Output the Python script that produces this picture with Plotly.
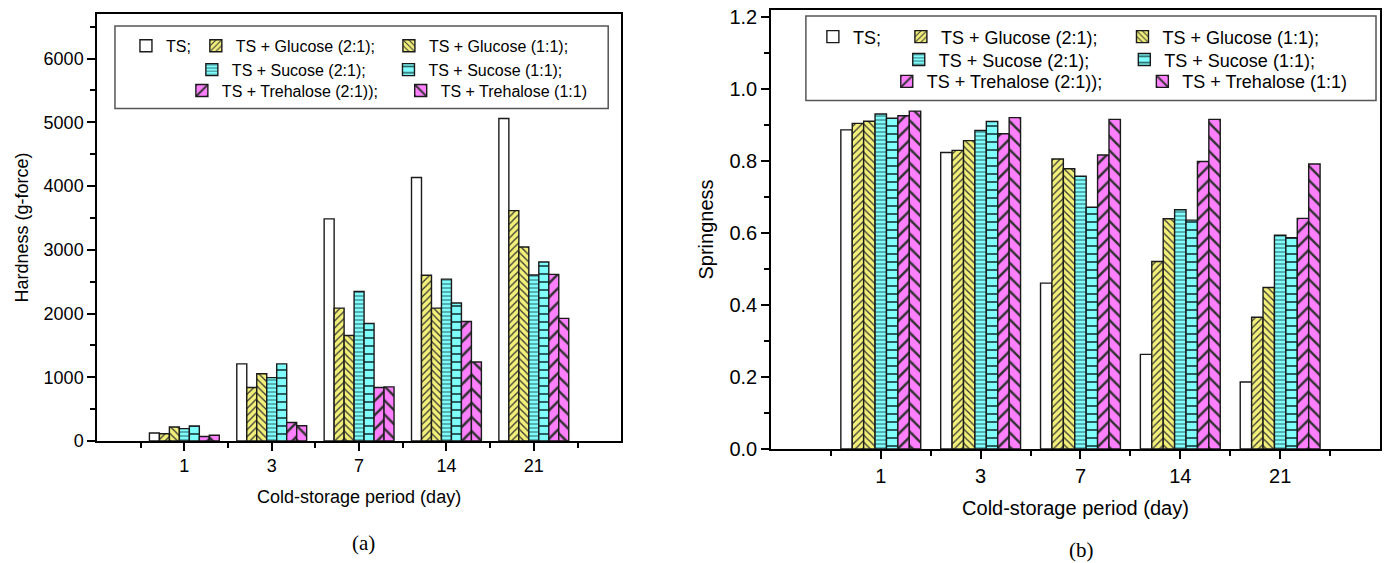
import plotly.graph_objects as go

# ---------------- data ----------------
days = ["1", "3", "7", "14", "21"]
series_names = [
    "TS;",
    "TS + Glucose (2:1);",
    "TS + Glucose (1:1);",
    "TS + Sucose (2:1);",
    "TS + Sucose (1:1);",
    "TS + Trehalose (2:1));",
    "TS + Trehalose (1:1)",
]

hardness_ts = [125, 1210, 3485, 4135, 5060]
hardness_glu21 = [115, 840, 2085, 2600, 3615]
hardness_glu11 = [220, 1055, 1655, 2085, 3045]
hardness_suc21 = [195, 995, 2345, 2540, 2605]
hardness_suc11 = [235, 1210, 1845, 2165, 2810]
hardness_tre21 = [70, 290, 840, 1875, 2615]
hardness_tre11 = [90, 240, 850, 1240, 1925]

spring_ts = [0.887, 0.824, 0.461, 0.263, 0.186]
spring_glu21 = [0.905, 0.830, 0.806, 0.521, 0.366]
spring_glu11 = [0.911, 0.857, 0.779, 0.640, 0.449]
spring_suc21 = [0.931, 0.885, 0.758, 0.665, 0.594]
spring_suc11 = [0.919, 0.910, 0.672, 0.636, 0.587]
spring_tre21 = [0.926, 0.876, 0.817, 0.799, 0.641]
spring_tre11 = [0.939, 0.921, 0.916, 0.916, 0.792]

hardness = [hardness_ts, hardness_glu21, hardness_glu11, hardness_suc21,
            hardness_suc11, hardness_tre21, hardness_tre11]
springness = [spring_ts, spring_glu21, spring_glu11, spring_suc21,
              spring_suc11, spring_tre21, spring_tre11]

# ---------------- styles ----------------
YEL, CYA, MAG = "#F3F07A", "#80FFFF", "#FF80FF"
styles = [
    dict(bg="white", shape="", size=8, fg="#333"),
    dict(bg=YEL, shape="/", size=5, fg="#333"),
    dict(bg=YEL, shape="\\", size=5, fg="#333"),
    dict(bg=CYA, shape="-", size=4, fg="#2a6060"),
    dict(bg=CYA, shape="-", size=8, fg="#2a6060"),
    dict(bg=MAG, shape="/", size=10, fg="#333"),
    dict(bg=MAG, shape="\\", size=10, fg="#333"),
]
legend_rows_a = ["legend", "legend", "legend", "legend2", "legend2", "legend3", "legend3"]
legend_rows_b = ["legend4", "legend4", "legend4", "legend5", "legend5", "legend6", "legend6"]
NBSP = "\u00a0"
pad_a = [0, 2, 0, 4, 0, 4, 0]
pad_b = [3, 4, 0, 6, 0, 7, 0]

FONT = "Arial, 'Liberation Sans', sans-serif"
SERIF = "'Liberation Serif', 'Times New Roman', serif"
W, H = 1388, 563
ML, MR, MT, MB = 97, 6, 8, 114
PW, PH = W - ML - MR, H - MT - MB


def fx(px):
    return (px - ML) / PW


def fy(py):
    return (H - MB - py) / PH


pos = list(range(len(days)))

fig = go.Figure()
for i, name in enumerate(series_names):
    st = styles[i]
    for vals, xa, ya, lg, pad in ((hardness[i], "x", "y", legend_rows_a[i], pad_a[i]),
                                  (springness[i], "x2", "y2", legend_rows_b[i], pad_b[i])):
        fig.add_trace(go.Bar(
            x=pos, y=vals, name=name + NBSP * pad, xaxis=xa, yaxis=ya,
            legend=lg, offsetgroup=str(i),
            marker=dict(color=st["bg"], line=dict(color="#1a1a1a", width=1.4),
                        pattern=dict(shape=st["shape"], size=st["size"],
                                     fgcolor=st["fg"], bgcolor=st["bg"],
                                     solidity=0.25, fillmode="replace")),
            hoverinfo="x+y+name",
        ))

axis_common = dict(showline=True, linecolor="black", linewidth=1.5, mirror=True,
                   ticks="outside", ticklen=8, tickwidth=1.5, tickcolor="black",
                   showgrid=False, zeroline=False)


def xaxis(domain, rng, fsize, anchor):
    return dict(axis_common, domain=domain, range=rng, anchor=anchor,
                tickmode="array", tickvals=pos, ticktext=days,
                tickfont=dict(size=fsize, family=FONT, color="black"),
                title=dict(text="Cold-storage period (day)", standoff=15,
                           font=dict(size=fsize, family=FONT, color="black")),
                minor=dict(tickmode="linear", tick0=0.5, dtick=1, ticks="outside",
                           ticklen=5, tickwidth=1.5, tickcolor="black", showgrid=False))


def yaxis(domain, rng, dtick, fmt, title, fsize, anchor):
    return dict(axis_common, domain=domain, range=rng, anchor=anchor,
                tickmode="linear", tick0=0, dtick=dtick, tickformat=fmt,
                tickfont=dict(size=fsize, family=FONT, color="black"),
                title=dict(text=title, standoff=10,
                           font=dict(size=fsize, family=FONT, color="black")),
                minor=dict(tickmode="linear", tick0=0, dtick=dtick / 2, ticks="outside",
                           ticklen=5, tickwidth=1.5, tickcolor="black", showgrid=False))


def legend(x, y, fsize):
    return dict(orientation="h", x=x, y=y, xanchor="left", yanchor="middle",
                bgcolor="rgba(0,0,0,0)", borderwidth=0, itemwidth=30,
                font=dict(size=fsize, family=FONT, color="black"),
                traceorder="normal", itemclick=False, itemdoubleclick=False)


fig.update_layout(
    width=W, height=H, margin=dict(l=ML, r=MR, t=MT, b=MB),
    paper_bgcolor="white", plot_bgcolor="white",
    barmode="group", bargap=0.2, bargroupgap=0,
    font=dict(family=FONT, color="black"),
    xaxis=xaxis([fx(97), fx(622)], [-1, 5], 18, "y"),
    yaxis=yaxis([fy(441), fy(12)], [0, 6700], 1000, "d", "Hardness (g-force)", 18, "x"),
    xaxis2=xaxis([fx(772), fx(1382)], [-1.1, 5], 20, "y2"),
    yaxis2=yaxis([fy(449), fy(8)], [0, 1.22], 0.2, ".1f", "Springness", 20, "x2"),
    legend=legend(fx(126), fy(44), 16),
    legend2=legend(fx(192), fy(68), 16),
    legend3=legend(fx(182), fy(89), 16),
    legend4=legend(fx(814), fy(35), 18),
    legend5=legend(fx(900), fy(58), 18),
    legend6=legend(fx(888), fy(80), 18),
    shapes=[
        dict(type="rect", xref="paper", yref="paper", x0=fx(115), x1=fx(609),
             y0=fy(107), y1=fy(24), line=dict(color="#555", width=1.5)),
        dict(type="rect", xref="paper", yref="paper", x0=fx(807), x1=fx(1378),
             y0=fy(99), y1=fy(14), line=dict(color="#555", width=1.5)),
    ],
    annotations=[
        dict(text="(a)", xref="paper", yref="paper", x=fx(364), y=fy(543),
             xanchor="center", yanchor="middle", showarrow=False,
             font=dict(size=21, family=SERIF, color="black")),
        dict(text="(b)", xref="paper", yref="paper", x=fx(1083), y=fy(550),
             xanchor="center", yanchor="middle", showarrow=False,
             font=dict(size=21, family=SERIF, color="black")),
    ],
)

fig.write_html("out.html", config={"displayModeBar": False},
               post_script="document.body.style.margin='0';document.body.style.overflow='hidden';")
